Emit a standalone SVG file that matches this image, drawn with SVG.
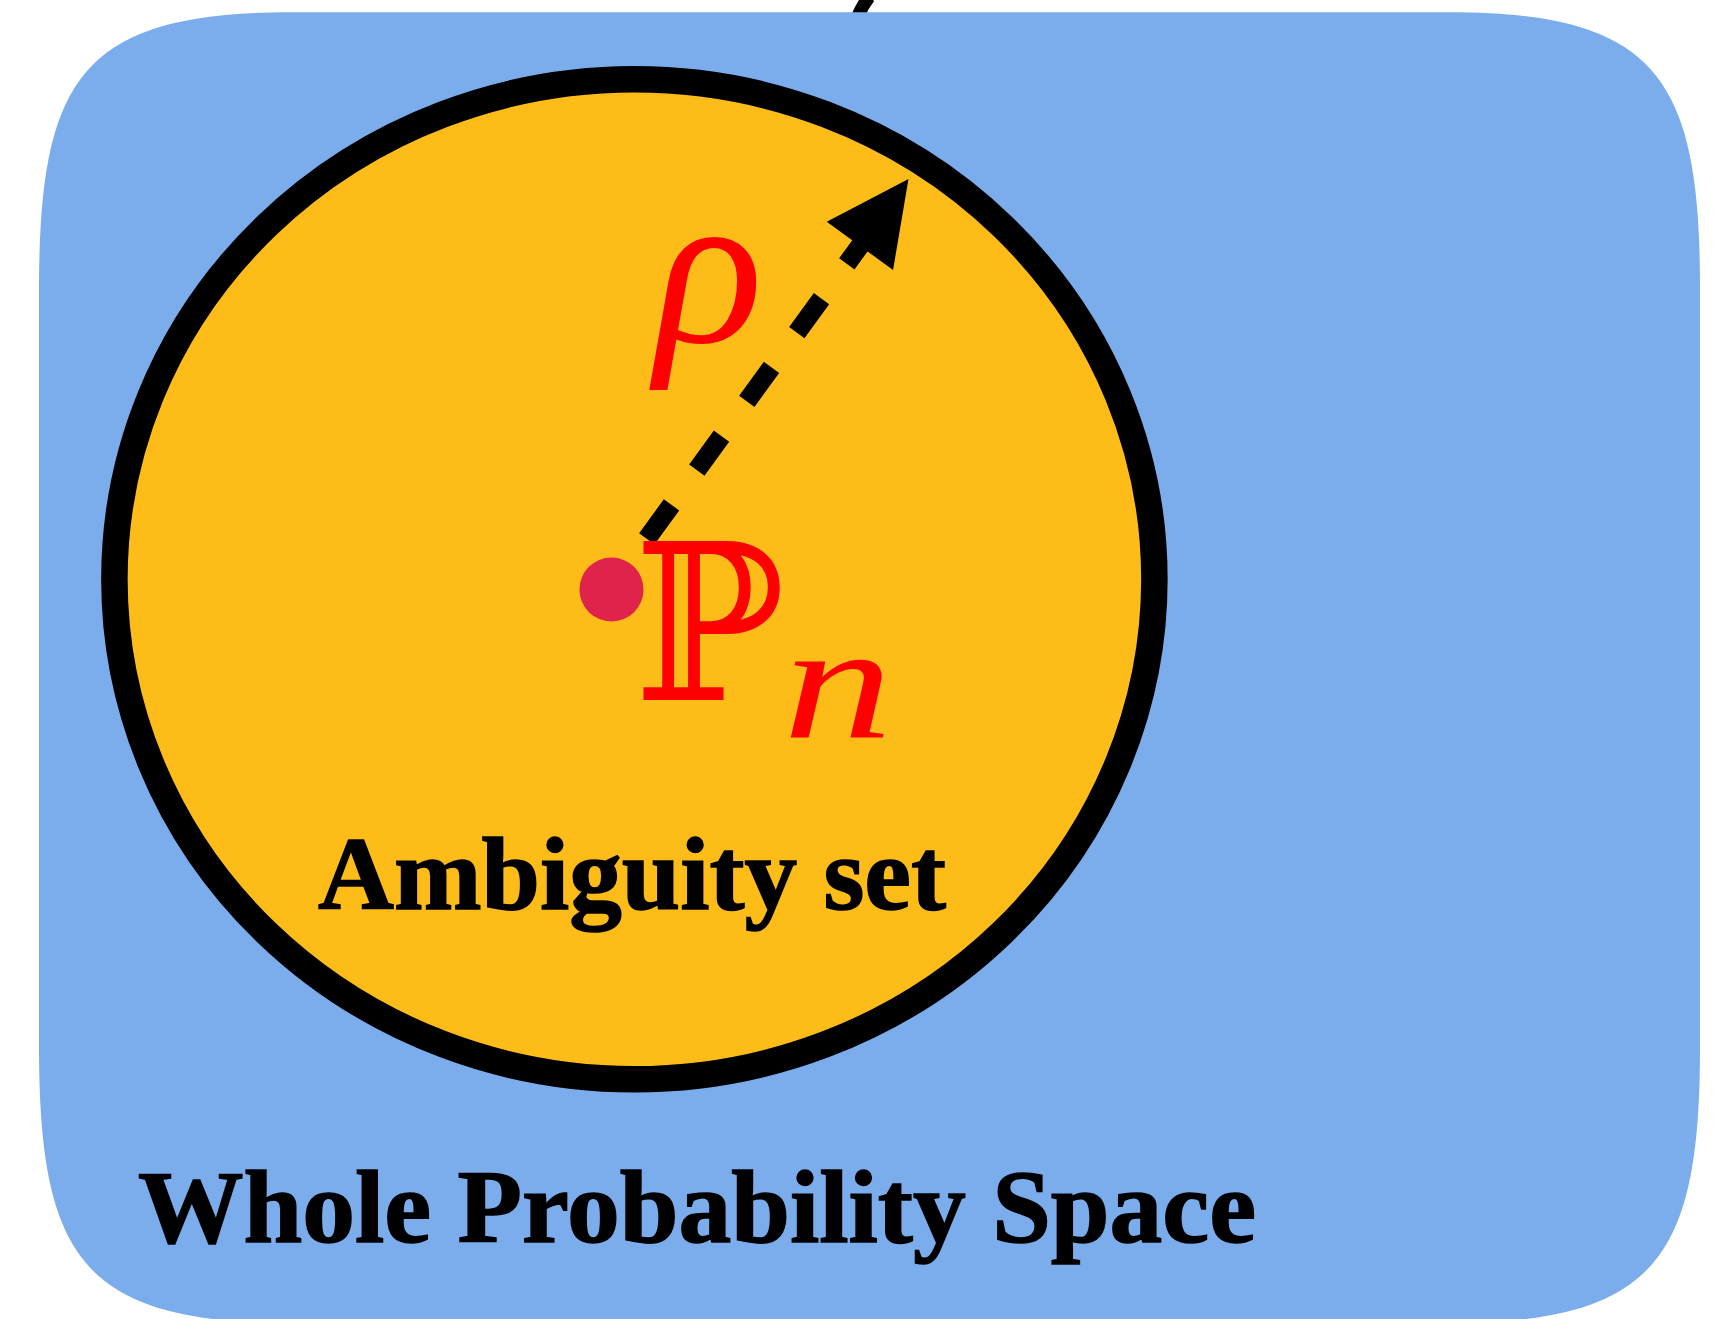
<svg xmlns="http://www.w3.org/2000/svg" width="1727" height="1319" viewBox="0 0 1727 1319">
  <defs>
    <style>
      .label { font-family: "Liberation Serif", "DejaVu Serif", serif; font-weight: bold; fill: #000; stroke: #000; stroke-width: 1.5; }
      .math { font-family: "Liberation Serif", "DejaVu Serif", serif; font-style: italic; fill: #ff0000; }
      .bb { font-family: "DejaVu Serif", "DejaVu Sans", serif; fill: #ff0000; }
      .dash { fill: none; stroke: #000; stroke-width: 19; stroke-dasharray: 42 43; stroke-linecap: butt; }
    </style>
    <marker id="head" markerUnits="userSpaceOnUse" markerWidth="100" markerHeight="100" viewBox="-20 -50 100 100" refX="0" refY="0" orient="auto" overflow="visible">
      <path d="M72.9,0 L-9.7,-41 L-9.7,41 Z" fill="#000"/>
    </marker>
  </defs>

  <path d="M858,16 Q862,6 869,-3" fill="none" stroke="#000" stroke-width="13"/>

  <g id="whole-space">
    <path d="M39,290 C39,80 80,12.3 290,12.3 L1449,12.3 C1659,12.3 1700,80 1700,290 L1700,1045 C1700,1255 1659,1323 1449,1323 L290,1323 C80,1323 39,1255 39,1045 Z" fill="#7BADED"/>
    <text class="label" x="138" y="1241.5" font-size="104" textLength="1118" lengthAdjust="spacingAndGlyphs">Whole Probability Space</text>
  </g>

  <g id="ambiguity-set">
    <ellipse cx="634.4" cy="579.3" rx="520" ry="500" fill="#FEBC19" stroke="#000" stroke-width="26.5"/>
    <text class="label" x="318" y="909" font-size="104" textLength="628" lengthAdjust="spacingAndGlyphs">Ambiguity set</text>
  </g>

  <g id="connectors">
    <path class="dash" d="M646.8,538.8 L865.6,238" marker-end="url(#head)"/>
    <text class="math" x="655" y="342" font-size="225">ρ</text>
  </g>

  <g id="empirical">
    <circle cx="611.5" cy="589.5" r="32" fill="#E0234B"/>
    <text class="bb" transform="translate(634.3,700) scale(0.92,1)" x="0" y="0" font-size="218">ℙ</text>
    <text class="math" transform="translate(783,738) scale(1.33,1)" x="0" y="0" font-size="165">n</text>
  </g>
</svg>
